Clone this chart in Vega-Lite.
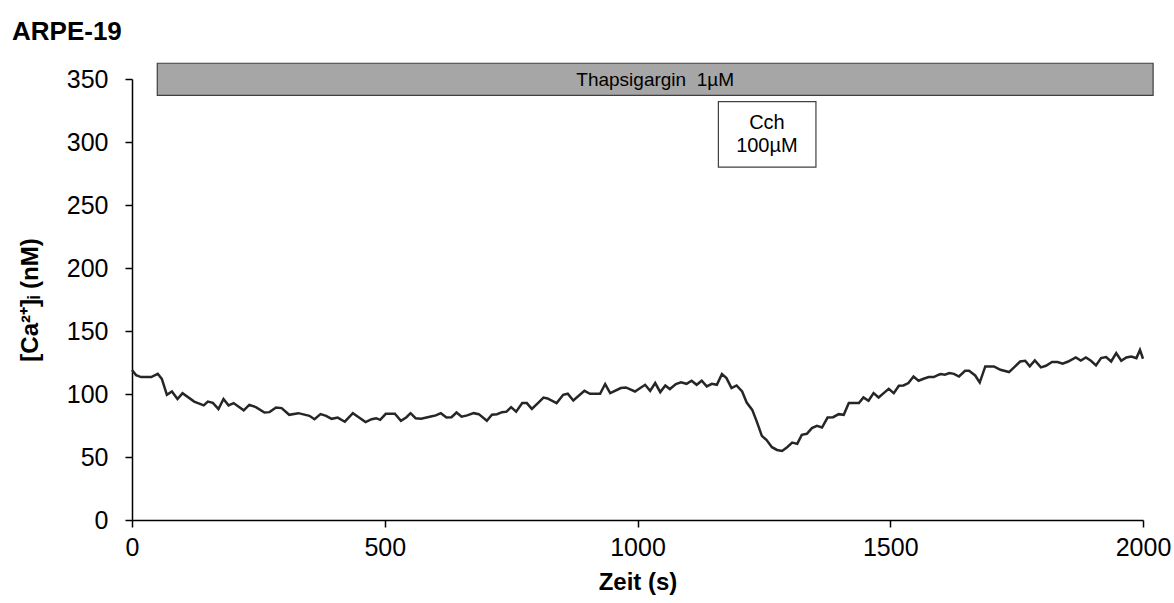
{
  "$schema": "https://vega.github.io/schema/vega-lite/v6.json",
  "autosize": "none",
  "width": 1011,
  "height": 441,
  "padding": {"left": 132, "top": 79, "right": 31, "bottom": 83},
  "background": "white",
  "config": {
    "font": "Liberation Sans",
    "view": {"stroke": null},
    "axis": {
      "domainColor": "#000000",
      "domainWidth": 1.5,
      "tickColor": "#000000",
      "tickWidth": 1.5,
      "tickSize": 7,
      "grid": false,
      "labelFont": "Liberation Sans",
      "labelFontSize": 25,
      "labelColor": "#000000",
      "titleFont": "Liberation Sans",
      "titleFontSize": 24,
      "titleFontWeight": "bold",
      "titleColor": "#000000"
    }
  },
  "title": {
    "text": "ARPE-19",
    "anchor": "start",
    "frame": "group",
    "font": "Liberation Sans",
    "fontSize": 26,
    "fontWeight": "bold",
    "color": "#000000",
    "dx": -120,
    "offset": 18
  },
  "datasets": {
    "trace": [
      {"t": 0, "ca": 119}, {"t": 8, "ca": 115}, {"t": 18, "ca": 113.4}, {"t": 38, "ca": 113.4},
      {"t": 51, "ca": 116}, {"t": 59, "ca": 112}, {"t": 69, "ca": 99.4}, {"t": 79, "ca": 102},
      {"t": 90, "ca": 96}, {"t": 100, "ca": 100.7}, {"t": 123, "ca": 94}, {"t": 142, "ca": 91},
      {"t": 150, "ca": 94}, {"t": 160, "ca": 93}, {"t": 171, "ca": 88}, {"t": 181, "ca": 96},
      {"t": 191, "ca": 91}, {"t": 201, "ca": 92.8}, {"t": 221, "ca": 87}, {"t": 232, "ca": 91.4},
      {"t": 245, "ca": 89.6}, {"t": 262, "ca": 85.3}, {"t": 272, "ca": 85.6}, {"t": 285, "ca": 89.3},
      {"t": 296, "ca": 88.8}, {"t": 311, "ca": 83.5}, {"t": 329, "ca": 84.8}, {"t": 351, "ca": 82.7},
      {"t": 361, "ca": 80}, {"t": 373, "ca": 84}, {"t": 384, "ca": 82.7}, {"t": 395, "ca": 80.3},
      {"t": 407, "ca": 81.3}, {"t": 421, "ca": 78}, {"t": 437, "ca": 84.8}, {"t": 447, "ca": 82},
      {"t": 462, "ca": 77.7}, {"t": 474, "ca": 80}, {"t": 483, "ca": 80.8}, {"t": 491, "ca": 79.5},
      {"t": 502, "ca": 84.3}, {"t": 520, "ca": 84.3}, {"t": 532, "ca": 78.7}, {"t": 543, "ca": 81.6},
      {"t": 551, "ca": 84.8}, {"t": 561, "ca": 80.8}, {"t": 572, "ca": 80.3}, {"t": 589, "ca": 82},
      {"t": 601, "ca": 83}, {"t": 611, "ca": 84.8}, {"t": 622, "ca": 81.3}, {"t": 632, "ca": 81.6},
      {"t": 642, "ca": 85.3}, {"t": 652, "ca": 82}, {"t": 663, "ca": 83}, {"t": 676, "ca": 84.8},
      {"t": 686, "ca": 84}, {"t": 702, "ca": 78.7}, {"t": 712, "ca": 83.5}, {"t": 722, "ca": 84},
      {"t": 732, "ca": 85.6}, {"t": 741, "ca": 86}, {"t": 750, "ca": 89.6}, {"t": 760, "ca": 86},
      {"t": 772, "ca": 92.8}, {"t": 781, "ca": 92.8}, {"t": 791, "ca": 88.2}, {"t": 803, "ca": 92.8},
      {"t": 814, "ca": 97.2}, {"t": 822, "ca": 96.5}, {"t": 840, "ca": 92.8}, {"t": 853, "ca": 99.4},
      {"t": 862, "ca": 100.2}, {"t": 873, "ca": 94.8}, {"t": 895, "ca": 102.5}, {"t": 906, "ca": 100.2},
      {"t": 926, "ca": 100.2}, {"t": 936, "ca": 107.9}, {"t": 946, "ca": 100.7}, {"t": 967, "ca": 104.7},
      {"t": 977, "ca": 105.2}, {"t": 995, "ca": 102}, {"t": 1015, "ca": 107.3}, {"t": 1025, "ca": 102.5},
      {"t": 1035, "ca": 108.7}, {"t": 1045, "ca": 101.5}, {"t": 1055, "ca": 106.8}, {"t": 1064, "ca": 103.9},
      {"t": 1076, "ca": 107.9}, {"t": 1086, "ca": 109.2}, {"t": 1097, "ca": 108.1}, {"t": 1107, "ca": 110.5},
      {"t": 1117, "ca": 107.3}, {"t": 1127, "ca": 110.5}, {"t": 1137, "ca": 106}, {"t": 1147, "ca": 108.1},
      {"t": 1157, "ca": 107.3}, {"t": 1167, "ca": 115.8}, {"t": 1176, "ca": 112.6}, {"t": 1186, "ca": 104.7},
      {"t": 1196, "ca": 106.8}, {"t": 1207, "ca": 102}, {"t": 1216, "ca": 93.2}, {"t": 1227, "ca": 87.4},
      {"t": 1236, "ca": 78.1}, {"t": 1246, "ca": 66.8}, {"t": 1255, "ca": 63.6}, {"t": 1266, "ca": 57.8},
      {"t": 1276, "ca": 55.6}, {"t": 1286, "ca": 54.8}, {"t": 1296, "ca": 57.8}, {"t": 1306, "ca": 61.4},
      {"t": 1316, "ca": 60.4}, {"t": 1325, "ca": 67.6}, {"t": 1335, "ca": 68.4}, {"t": 1345, "ca": 72.9},
      {"t": 1355, "ca": 74.7}, {"t": 1365, "ca": 73.4}, {"t": 1376, "ca": 81.3}, {"t": 1387, "ca": 81.6},
      {"t": 1398, "ca": 84}, {"t": 1408, "ca": 83.5}, {"t": 1418, "ca": 92.8}, {"t": 1438, "ca": 92.8},
      {"t": 1447, "ca": 97.2}, {"t": 1457, "ca": 94.6}, {"t": 1467, "ca": 100.7}, {"t": 1477, "ca": 97.2},
      {"t": 1487, "ca": 100.7}, {"t": 1497, "ca": 104.1}, {"t": 1507, "ca": 100.7}, {"t": 1517, "ca": 106.5},
      {"t": 1526, "ca": 106.8}, {"t": 1536, "ca": 108.7}, {"t": 1546, "ca": 113.9}, {"t": 1556, "ca": 110.5},
      {"t": 1566, "ca": 112.1}, {"t": 1576, "ca": 113.4}, {"t": 1586, "ca": 113.4}, {"t": 1596, "ca": 115.3},
      {"t": 1600, "ca": 115.8}, {"t": 1608, "ca": 115.3}, {"t": 1617, "ca": 116.6}, {"t": 1626, "ca": 116},
      {"t": 1636, "ca": 113.9}, {"t": 1648, "ca": 118.4}, {"t": 1656, "ca": 118.4}, {"t": 1668, "ca": 114.7},
      {"t": 1677, "ca": 109.1}, {"t": 1688, "ca": 121.9}, {"t": 1705, "ca": 121.9}, {"t": 1718, "ca": 119.2},
      {"t": 1735, "ca": 117.4}, {"t": 1747, "ca": 121.9}, {"t": 1757, "ca": 125.8}, {"t": 1767, "ca": 126.4},
      {"t": 1776, "ca": 121.9}, {"t": 1786, "ca": 126.6}, {"t": 1798, "ca": 121.1}, {"t": 1808, "ca": 122.4},
      {"t": 1820, "ca": 125.4}, {"t": 1831, "ca": 125.4}, {"t": 1841, "ca": 124}, {"t": 1852, "ca": 125.8},
      {"t": 1867, "ca": 129}, {"t": 1877, "ca": 126.6}, {"t": 1887, "ca": 129}, {"t": 1897, "ca": 126.4},
      {"t": 1907, "ca": 122.7}, {"t": 1917, "ca": 128.5}, {"t": 1927, "ca": 129.3}, {"t": 1937, "ca": 125.8},
      {"t": 1947, "ca": 132.5}, {"t": 1957, "ca": 126.4}, {"t": 1967, "ca": 129}, {"t": 1977, "ca": 129.8},
      {"t": 1987, "ca": 128.5}, {"t": 1994, "ca": 135}, {"t": 2000, "ca": 128}
    ],
    "boxes": [
      {"name": "thaps", "t": 50, "t2": 2020, "ca": 337, "ca2": 362.5, "fill": "#a6a6a6"},
      {"name": "cch", "t": 1160, "t2": 1353, "ca": 280, "ca2": 332, "fill": "#ffffff"}
    ],
    "labels": [
      {"label": "Thapsigargin \u00a01µM", "t": 1035, "ca": 349.5, "size": 19},
      {"label": "Cch", "t": 1256, "ca": 315, "size": 20},
      {"label": "100µM", "t": 1256, "ca": 297, "size": 20}
    ]
  },
  "layer": [
    {
      "data": {"name": "trace"},
      "mark": {"type": "line", "color": "#262626", "strokeWidth": 2.5, "interpolate": "linear"},
      "encoding": {
        "x": {"field": "t", "type": "quantitative", "title": "Zeit (s)",
              "scale": {"domain": [0, 2000], "nice": false},
              "axis": {"values": [0, 500, 1000, 1500, 2000], "format": "d", "labelPadding": 8, "titlePadding": 10, "labelFlush": false}},
        "y": {"field": "ca", "type": "quantitative", "title": "[Ca²⁺]ᵢ (nM)",
              "scale": {"domain": [0, 350], "nice": false},
              "axis": {"values": [0, 50, 100, 150, 200, 250, 300, 350], "labelPadding": 17, "titlePadding": 24, "labelFlush": false}}
      }
    },
    {
      "data": {"name": "boxes"},
      "mark": {"type": "rect", "stroke": "#404040", "strokeWidth": 1.2},
      "encoding": {
        "x": {"field": "t", "type": "quantitative", "title": "Zeit (s)"},
        "x2": {"field": "t2"},
        "y": {"field": "ca", "type": "quantitative", "title": "[Ca²⁺]ᵢ (nM)"},
        "y2": {"field": "ca2"},
        "fill": {"field": "fill", "type": "nominal", "scale": null}
      }
    },
    {
      "data": {"name": "labels"},
      "mark": {"type": "text", "align": "center", "baseline": "middle", "color": "#000000", "font": "Liberation Sans"},
      "encoding": {
        "x": {"field": "t", "type": "quantitative", "title": "Zeit (s)"},
        "y": {"field": "ca", "type": "quantitative", "title": "[Ca²⁺]ᵢ (nM)"},
        "text": {"field": "label", "type": "nominal"},
        "size": {"field": "size", "type": "quantitative", "scale": null}
      }
    }
  ]
}
